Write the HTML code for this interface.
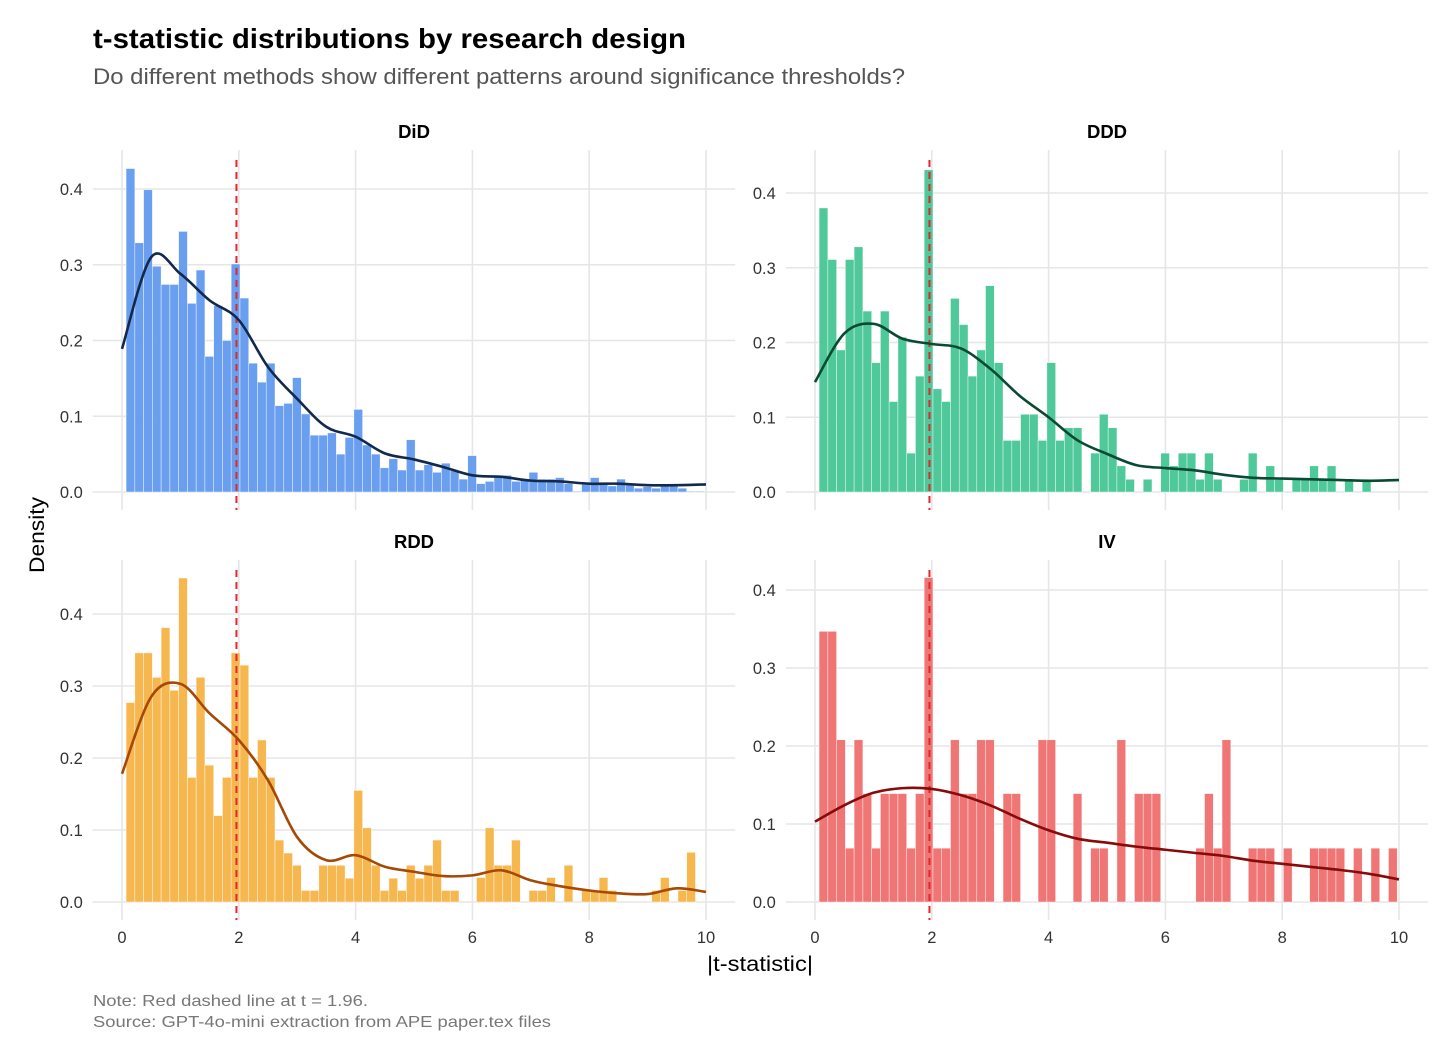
<!DOCTYPE html>
<html><head><meta charset="utf-8">
<style>
html,body{margin:0;padding:0;background:#fff;}
svg{display:block;font-family:"Liberation Sans",Arial,sans-serif;}
</style></head>
<body>
<svg id="chart" width="1456" height="1059" viewBox="0 0 1456 1059" xmlns="http://www.w3.org/2000/svg">
<rect width="1456" height="1059" fill="#fff"/>
<text x="93" y="48" font-size="28" font-weight="bold" fill="#000" textLength="593" lengthAdjust="spacingAndGlyphs">t-statistic distributions by research design</text>
<text x="93" y="84" font-size="22" fill="#555" textLength="812" lengthAdjust="spacingAndGlyphs">Do different methods show different patterns around significance thresholds?</text>
<text transform="translate(44,535) rotate(-90)" text-anchor="middle" font-size="21" fill="#000" textLength="76" lengthAdjust="spacingAndGlyphs">Density</text>
<text x="760" y="971" text-anchor="middle" font-size="21" fill="#000" textLength="106" lengthAdjust="spacingAndGlyphs">|t-statistic|</text>
<text x="93" y="1006" font-size="16" fill="#777" textLength="275" lengthAdjust="spacingAndGlyphs">Note: Red dashed line at t = 1.96.</text>
<text x="93" y="1027" font-size="16" fill="#777" textLength="458" lengthAdjust="spacingAndGlyphs">Source: GPT-4o-mini extraction from APE paper.tex files</text>
<g id="panels"></g>
</svg>
<script>
const binStart = 0.07;
const binWidth = 0.15;
const xTicks = [0, 2, 4, 6, 8, 10];
const yTicks = [0, 0.1, 0.2, 0.3, 0.4];
const threshold = 1.96;
const curveT = [0,0.5,1,1.5,2,2.5,3,3.5,4,4.5,5,5.5,6,6.5,7,7.5,8,8.5,9,9.5,10];

const didBars = [.427,.329,.399,.298,.274,.274,.344,.249,.293,.179,.246,.200,.301,.256,.170,.145,.170,.114,.117,.151,.103,.075,.075,.078,.050,.072,.109,.062,.050,.032,.044,.029,.069,.029,
.036,.026,.038,.028,.017,.048,.011,.014,.022,.022,.014,.017,.026,.017,.017,.019,.011,.001,.011,.019,.012,.008,.017,.009,.005,.007,.005,.008,.008,.005,.001,.001];
const didCurve = [0.189,0.31,0.288,0.253,0.227,0.165,0.123,0.086,0.073,0.051,0.043,0.033,0.022,0.020,0.015,0.014,0.011,0.011,0.009,0.009,0.010];

const dddBars = [.380,.311,.190,.311,.328,.242,.173,.242,.121,.207,.052,.155,.431,.138,.121,.259,.224,.155,.190,.276,.173,
.069,.069,.104,.104,.069,.173,.069,.086,.086,0,.052,.104,.086,.035,.017,0,.017,0,.052,.035,.052,.052,.017,.052,.017,0,0,.017,.052,0,.035,.017,0,.017,.017,.035,.017,.035,0,.017,0,.017,0,0,0];
const dddCurve = [0.147,0.212,0.225,0.205,0.198,0.192,0.165,0.129,0.100,0.069,0.051,0.036,0.032,0.029,0.023,0.019,0.018,0.017,0.016,0.015,0.016];

const rddBars = [.277,.346,.346,.312,.381,.294,.450,.173,.312,.190,.120,.173,.346,.329,.173,.225,.173,.086,.068,.051,.016,.016,.051,.051,.051,.033,.155,.103,.051,.016,.033,.016,.051,.033,
.051,.086,.016,.016,0,0,.034,.103,.051,.051,.086,0,.016,.016,.034,0,.051,0,.016,.016,.034,.016,0,0,0,0,.016,.034,0,.016,.069,0];
const rddCurve = [0.178,0.285,0.303,0.262,0.225,0.169,0.090,0.058,0.065,0.049,0.042,0.036,0.037,0.044,0.030,0.022,0.016,0.012,0.011,0.019,0.014];

const ivBars = [.347,.347,.208,.069,.208,.139,.069,.139,.139,.139,.069,.139,.416,.069,.069,.208,.139,.139,.208,.208,0,.139,.139,0,0,.208,.208,0,0,.139,0,.069,.069,0,.208,0,.139,.139,.139,0,0,0,0,.069,.139,.069,.208,0,0,.069,.069,.069,0,.069,0,0,.069,.069,.069,.069,0,.069,0,.069,0,.069];
const ivCurve = [0.103,0.124,0.140,0.146,0.145,0.137,0.124,0.107,0.092,0.081,0.076,0.071,0.067,0.063,0.059,0.053,0.049,0.045,0.041,0.036,0.029];

const NS = "http://www.w3.org/2000/svg";
const root = document.getElementById('panels');
function mk(tag, attrs, parent){
  const e = document.createElementNS(NS, tag);
  for (const k in attrs) e.setAttribute(k, attrs[k]);
  parent.appendChild(e);
  return e;
}
const panels = [
  {key:'did', label:'DiD', bars:didBars, curve:didCurve, x0:122, top:150, bottom:510, y0:492, ppu:757.5, strip:138, fill:'#6a9ff0', line:'#13294b', xlabels:false},
  {key:'ddd', label:'DDD', bars:dddBars, curve:dddCurve, x0:815, top:150, bottom:510, y0:492, ppu:747.5, strip:138, fill:'#4fc99a', line:'#0a4a33', xlabels:false},
  {key:'rdd', label:'RDD', bars:rddBars, curve:rddCurve, x0:122, top:560, bottom:920, y0:902, ppu:720, strip:548, fill:'#f6b74f', line:'#a64806', xlabels:true},
  {key:'iv', label:'IV', bars:ivBars, curve:ivCurve, x0:815, top:560, bottom:920, y0:902, ppu:780, strip:548, fill:'#f07676', line:'#870b0b', xlabels:true}
];
const pxPerT = 58.4;
panels.forEach(p => {
  const g = mk('g', {}, root);
  
  
  const xs = t => p.x0 + t * pxPerT;
  const ys = v => p.y0 - v * p.ppu;
  const left = xs(-0.5), right = xs(10.5);
  yTicks.forEach(v => {
    const l = mk('line', {x1:left, x2:right, y1:ys(v), y2:ys(v), stroke:'#e6e6e6', 'stroke-width':1.6}, g);
    
    
    const tx = mk('text', {x:left - 10, y:ys(v) + 6, 'text-anchor':'end', 'font-size':16.5, fill:'#333'}, g);
    
    
    tx.textContent = v.toFixed(1);
  });
  xTicks.forEach(t => {
    const l = mk('line', {x1:xs(t), x2:xs(t), y1:p.top, y2:p.bottom, stroke:'#e6e6e6', 'stroke-width':1.6}, g);
    
    
    if (p.xlabels) {
      const tx = mk('text', {x:xs(t), y:943, 'text-anchor':'middle', 'font-size':16.5, fill:'#333'}, g);
      
      
      tx.textContent = String(t);
    }
  });
  const st = mk('text', {x:(left + right) / 2, y:p.strip, 'text-anchor':'middle', 'font-size':18.5, 'font-weight':'bold', fill:'#000'}, g);
  
  
  st.textContent = p.label;
  p.bars.forEach((v, i) => {
    if (v <= 0) return;
    const a = binStart + i * binWidth;
    const r = mk('rect', {x:xs(a), y:ys(v), width:binWidth * pxPerT, height:v * p.ppu, fill:p.fill, stroke:'#fff', 'stroke-width':0.6, 'stroke-opacity':0.7}, g);
    
    
  });
  const th = mk('line', {x1:xs(threshold), x2:xs(threshold), y1:p.top + 10, y2:p.bottom, stroke:'#e3262d', 'stroke-width':2, 'stroke-dasharray':'7,5'}, g);
  
  
  const pts = curveT.map((t, i) => [xs(t), ys(p.curve[i])]);
  let d = 'M' + pts[0][0] + ',' + pts[0][1];
  for (let i = 0; i < pts.length - 1; i++) {
    const p0 = pts[Math.max(0, i - 1)], p1 = pts[i], p2 = pts[i + 1], p3 = pts[Math.min(pts.length - 1, i + 2)];
    const c1 = [p1[0] + (p2[0] - p0[0]) / 6, p1[1] + (p2[1] - p0[1]) / 6];
    const c2 = [p2[0] - (p3[0] - p1[0]) / 6, p2[1] - (p3[1] - p1[1]) / 6];
    d += ' C' + c1[0] + ',' + c1[1] + ' ' + c2[0] + ',' + c2[1] + ' ' + p2[0] + ',' + p2[1];
  }
  const path = mk('path', {d:d, fill:'none', stroke:p.line, 'stroke-width':2.6, 'stroke-linejoin':'round'}, g);
  
  
});
</script>
</body></html>
